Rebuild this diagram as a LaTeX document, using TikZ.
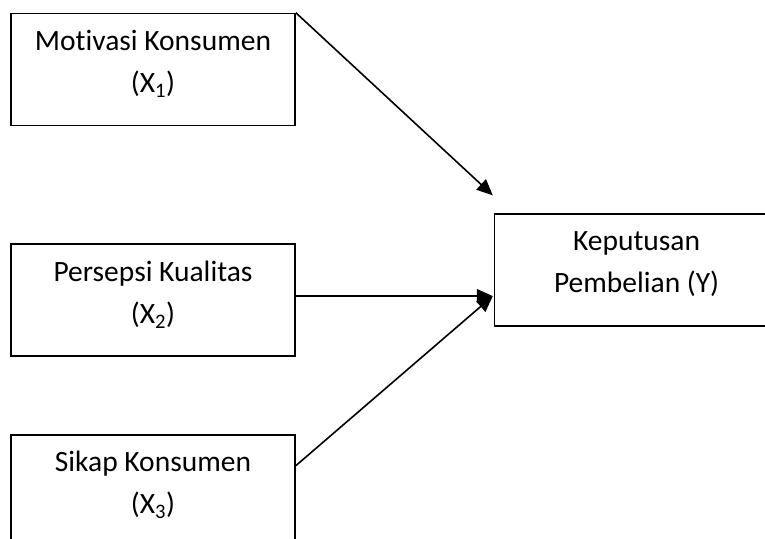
\documentclass[tikz,border=0pt]{standalone}
\usepackage{fontspec}
\setmainfont[Ligatures=NoCommon]{Carlito}
\usepackage{tikz}
\usetikzlibrary{positioning, arrows.meta}
\tikzset{
  var/.style = {rectangle, draw=black, line width=1.6pt, fill=white,
                minimum width=284pt, minimum height=112pt, align=center,
                text depth=16pt, font=\fontsize{29.5}{42}\selectfont},
  arr/.style = {-{Triangle[length=16pt,width=14pt]}, line width=1.6pt},
}

\begin{document}
\begin{tikzpicture}[x=1pt, y=-1pt]

  \useasboundingbox (0,0) rectangle (765,538);
  \clip (0,0) rectangle (765,538);

  \node[var] at (153,69.5)               (x1) {Motivasi Konsumen\\(X\textsubscript{1})};
  \node[var, below=117pt of x1]          (x2) {Persepsi Kualitas\\(X\textsubscript{2})};
  \node[var, below=77pt of x2]           (x3) {Sikap Konsumen\\(X\textsubscript{3})};
  \node[var, right=198pt of x2, yshift=30pt] (y) {Keputusan\\Pembelian (Y)};

  \coordinate (yin) at ([xshift=-1pt, yshift=18pt]y.north west);

  \draw[arr] (x1.north east) -- (yin);
  \draw[arr] ([yshift=4pt]x2.east) -- ([xshift=-1pt, yshift=-26pt]y.west);
  \draw[arr] ([yshift=25pt]x3.east) -- ([xshift=-1pt, yshift=-26pt]y.west);

\end{tikzpicture}
\end{document}
